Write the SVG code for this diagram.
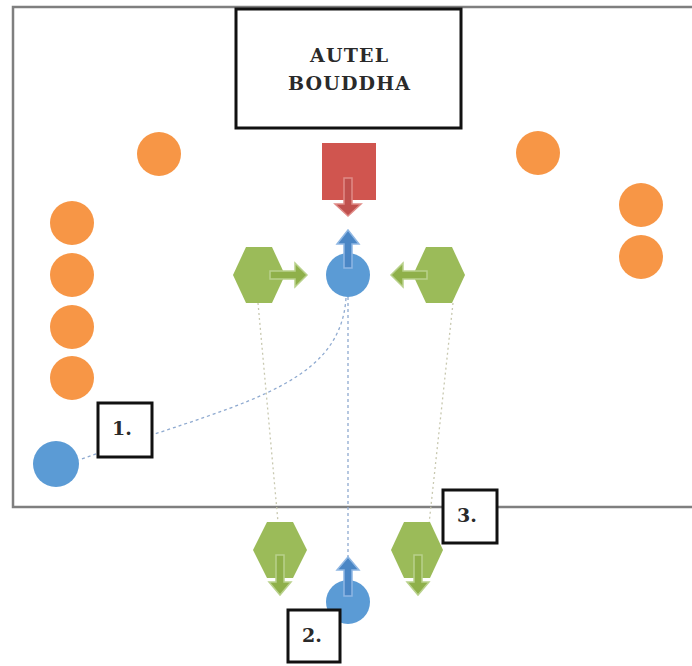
<svg xmlns="http://www.w3.org/2000/svg" width="692" height="666" viewBox="0 0 692 666">
<style>
.orange{fill:#f79646}
.blue{fill:#5b9bd5}
.hex{fill:#9bbb59}
.garrow{fill:#8fb04a;stroke:#b9d18c;stroke-width:1.5}
.barrow{fill:#4a86c5;stroke:#8fb7e3;stroke-width:1.5}
.rarrow{fill:#c0504d;stroke:#df8a86;stroke-width:1.5}
.box{fill:#fff;stroke:#111;stroke-width:3}
.lbl{font-family:"DejaVu Serif","Liberation Serif",serif;font-weight:bold;fill:#2a2a2a;text-anchor:middle}
.dotg{fill:none;stroke:#c8c8b0;stroke-width:1.3;stroke-dasharray:2 3}
.dotb{fill:none;stroke:#8faad0;stroke-width:1.3;stroke-dasharray:3 3}
</style>
<rect x="0" y="0" width="692" height="666" fill="#fff"/>
<rect id="room" x="13" y="7" width="682" height="500" fill="#fff" stroke="#7f7f7f" stroke-width="2.5"/>
<g id="connectors">
<path class="dotg" d="M258,303 L278,522"/>
<path class="dotg" d="M453,303 L429,524"/>
<path class="dotb" d="M348,297 L348,557"/>
<path class="dotb" d="M346,298 C340,390 230,405 79,460"/>
</g>
<g id="altar">
<rect class="box" x="236" y="9" width="225" height="119" stroke-width="3.5"/>
<text class="lbl" x="349" y="62" font-size="19" textLength="78" lengthAdjust="spacing">AUTEL</text>
<text class="lbl" x="349" y="90" font-size="19" textLength="122" lengthAdjust="spacing">BOUDDHA</text>
</g>
<g id="orange-left">
<circle class="orange" cx="159" cy="154" r="22"/>
<circle class="orange" cx="72" cy="223" r="22"/>
<circle class="orange" cx="72" cy="275" r="22"/>
<circle class="orange" cx="72" cy="327" r="22"/>
<circle class="orange" cx="72" cy="378" r="22"/>
</g>
<g id="orange-right">
<circle class="orange" cx="538" cy="153" r="22"/>
<circle class="orange" cx="641" cy="205" r="22"/>
<circle class="orange" cx="641" cy="257" r="22"/>
</g>
<g id="red-square">
<rect x="322" y="143" width="54" height="57" fill="#d0554f"/>
<path class="rarrow" d="M344,178 H352 V204 H361 L348,216 L335,204 H344 Z"/>
</g>
<g id="blue-center">
<circle class="blue" cx="348" cy="275" r="22"/>
<path class="barrow" d="M344,268 V244 H337 L348,230 L359,244 H352 V268 Z"/>
</g>
<g id="hex-left">
<polygon class="hex" points="233,275 246,247 272,247 285,275 272,303 246,303"/>
<path class="garrow" d="M270,271 H295 V263 L307,275 L295,287 V279 H270 Z"/>
</g>
<g id="hex-right">
<polygon class="hex" points="413,275 426,247 452,247 465,275 452,303 426,303"/>
<path class="garrow" d="M427,271 H403 V263 L391,275 L403,287 V279 H427 Z"/>
</g>
<g id="blue-left">
<circle class="blue" cx="56" cy="464" r="23"/>
</g>
<g id="label-1">
<rect class="box" x="98" y="403" width="54" height="54"/>
<text class="lbl" x="122" y="435" font-size="19">1.</text>
</g>
<g id="hex-bottom-left">
<polygon class="hex" points="253,550 267,522 293,522 307,550 293,578 267,578"/>
<path class="garrow" d="M276,555 V582 H269 L280,595 L291,582 H284 V555 Z"/>
</g>
<g id="hex-bottom-right">
<polygon class="hex" points="391,550 404,522 430,522 443,550 430,578 404,578"/>
<path class="garrow" d="M414,555 V582 H407 L418,595 L429,582 H422 V555 Z"/>
</g>
<g id="blue-bottom">
<circle class="blue" cx="348" cy="602" r="22"/>
<path class="barrow" d="M344,596 V570 H337 L348,557 L359,570 H352 V596 Z"/>
</g>
<g id="label-3">
<rect class="box" x="443" y="490" width="54" height="53"/>
<text class="lbl" x="467" y="522" font-size="19">3.</text>
</g>
<g id="label-2">
<rect class="box" x="288" y="610" width="52" height="52"/>
<text class="lbl" x="312" y="642" font-size="19">2.</text>
</g>
</svg>
